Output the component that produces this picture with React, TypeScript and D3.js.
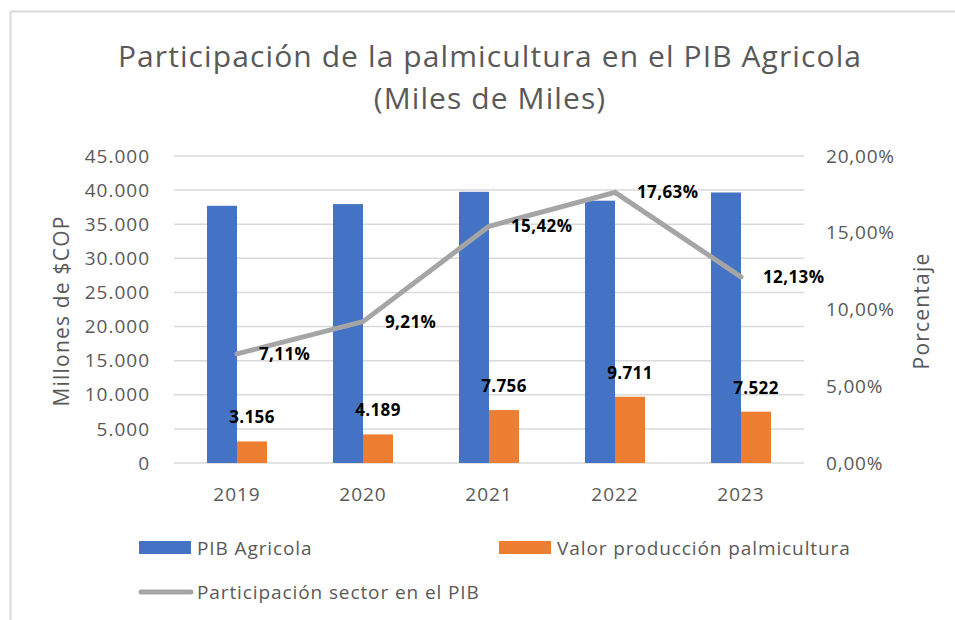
import * as d3 from "d3"
import { select, scaleBand, scaleLinear, line } from "d3"
import { useEffect, useRef } from "react"

const years = ["2019", "2020", "2021", "2022", "2023"]
const pibAgricola = [37700, 37950, 39750, 38450, 39650]
const valorPalma = [3156, 4189, 7756, 9711, 7522]
const participacion = [7.11, 9.21, 15.42, 17.63, 12.13]
const leftTicks = [0, 5000, 10000, 15000, 20000, 25000, 30000, 35000, 40000, 45000]
const rightTicks = [0, 5, 10, 15, 20]

const fmtMiles = (v: number) => d3.format(",")(v).replace(/,/g, ".")
const fmtPct = (v: number) => v.toFixed(2).replace(".", ",") + "%"

export default function App() {
  const ref = useRef<SVGSVGElement>(null)

  useEffect(() => {
    const svg = select(ref.current)
    svg.selectAll("*").remove()

    const font = "'Open Sans', sans-serif"
    const grey = "#595959"
    const left = 174, right = 804, top = 156, bottom = 463

    // frame (only top and left edges show)
    svg.append("line").attr("x1", 10.5).attr("x2", 955).attr("y1", 11.5).attr("y2", 11.5)
      .attr("stroke", "#D9D9D9").attr("stroke-width", 2)
    svg.append("line").attr("x1", 10.5).attr("x2", 10.5).attr("y1", 11.5).attr("y2", 620)
      .attr("stroke", "#D9D9D9").attr("stroke-width", 2)

    const x = scaleBand().domain(years).range([left, right]).padding(0)
    const xs = scaleBand().domain(["pib", "valor"]).range([33, 93]).padding(0)
    const y = scaleLinear().domain([0, 45000]).range([bottom, top])
    const y2 = scaleLinear().domain([0, 20]).range([bottom, top])

    // title
    const title = svg.append("text").attr("text-anchor", "middle").attr("fill", grey)
      .style("font-family", font).style("font-size", "30px").style("letter-spacing", "1.1px")
    title.append("tspan").attr("x", 490).attr("y", 67).text("Participación de la palmicultura en el PIB Agricola")
    title.append("tspan").attr("x", 490).attr("y", 109).text("(Miles de Miles)")

    // gridlines
    svg.append("g").selectAll("line").data(leftTicks).enter().append("line")
      .attr("x1", left).attr("x2", right)
      .attr("y1", d => y(d)).attr("y2", d => y(d))
      .attr("stroke", "#D9D9D9").attr("stroke-width", 1.5)

    // left axis labels
    svg.append("g").selectAll("text").data(leftTicks).enter().append("text")
      .attr("x", 150).attr("y", d => y(d)).attr("dy", "0.35em")
      .attr("text-anchor", "end").attr("fill", grey)
      .style("font-family", font).style("font-size", "19px").style("letter-spacing", "1px")
      .text(d => fmtMiles(d))

    // right axis labels
    svg.append("g").selectAll("text").data(rightTicks).enter().append("text")
      .attr("x", 826).attr("y", d => y2(d)).attr("dy", "0.35em")
      .attr("fill", grey)
      .style("font-family", font).style("font-size", "19px").style("letter-spacing", "0.8px")
      .text(d => fmtPct(d))

    // axis titles
    svg.append("text").attr("transform", "translate(62,311) rotate(-90)")
      .attr("text-anchor", "middle").attr("dy", "0.35em").attr("fill", grey)
      .style("font-family", font).style("font-size", "21px").style("letter-spacing", "1.2px")
      .text("Millones de $COP")
    svg.append("text").attr("transform", "translate(922,311) rotate(-90)")
      .attr("text-anchor", "middle").attr("dy", "0.35em").attr("fill", grey)
      .style("font-family", font).style("font-size", "21px").style("letter-spacing", "1.2px")
      .text("Porcentaje")

    // x labels
    svg.append("g").selectAll("text").data(years).enter().append("text")
      .attr("x", d => x(d)! + x.bandwidth() / 2).attr("y", 494).attr("dy", "0.35em")
      .attr("text-anchor", "middle").attr("fill", grey)
      .style("font-family", font).style("font-size", "19px").style("letter-spacing", "1px")
      .text(d => d)

    // bars
    svg.append("g").selectAll("rect").data(years).enter().append("rect")
      .attr("x", d => x(d)! + xs("pib")!)
      .attr("width", xs.bandwidth())
      .attr("y", (d, i) => y(pibAgricola[i]))
      .attr("height", (d, i) => bottom - y(pibAgricola[i]))
      .attr("fill", "#4472C4")
    svg.append("g").selectAll("rect").data(years).enter().append("rect")
      .attr("x", d => x(d)! + xs("valor")!)
      .attr("width", xs.bandwidth())
      .attr("y", (d, i) => y(valorPalma[i]))
      .attr("height", (d, i) => bottom - y(valorPalma[i]))
      .attr("fill", "#ED7D31")

    // orange labels
    svg.append("g").selectAll("text").data(years).enter().append("text")
      .attr("x", d => x(d)! + xs("valor")! + xs.bandwidth() / 2)
      .attr("y", (d, i) => y(valorPalma[i]) - 24).attr("dy", "0.35em")
      .attr("text-anchor", "middle").attr("fill", "#000")
      .style("font-family", font).style("font-size", "17px").style("font-weight", "bold")
      .style("letter-spacing", "0.4px")
      .text((d, i) => fmtMiles(valorPalma[i]))

    // line
    const cx = (d: string) => x(d)! + x.bandwidth() / 2
    const path = line<number>()
      .x((d, i) => cx(years[i]))
      .y(d => y2(d))
    svg.append("path").datum(participacion)
      .attr("d", path)
      .attr("fill", "none").attr("stroke", "#A5A5A5").attr("stroke-width", 5)
      .attr("stroke-linejoin", "round").attr("stroke-linecap", "round")

    svg.append("g").selectAll("text").data(participacion).enter().append("text")
      .attr("x", (d, i) => cx(years[i]) + 22)
      .attr("y", d => y2(d)).attr("dy", "0.35em")
      .attr("fill", "#000")
      .style("font-family", font).style("font-size", "17px").style("font-weight", "bold")
      .style("letter-spacing", "0.4px")
      .text(d => fmtPct(d))

    // legend
    const leg = svg.append("g").style("font-family", font).style("font-size", "19px")
      .style("letter-spacing", "0.9px")
    leg.append("rect").attr("x", 139).attr("y", 541).attr("width", 52).attr("height", 13).attr("fill", "#4472C4")
    leg.append("text").attr("x", 197).attr("y", 548).attr("dy", "0.35em").attr("fill", grey).text("PIB Agricola")
    leg.append("rect").attr("x", 499).attr("y", 541).attr("width", 52).attr("height", 13).attr("fill", "#ED7D31")
    leg.append("text").attr("x", 557).attr("y", 548).attr("dy", "0.35em").attr("fill", grey).text("Valor producción palmicultura")
    leg.append("line").attr("x1", 141).attr("x2", 191).attr("y1", 592).attr("y2", 592)
      .attr("stroke", "#A5A5A5").attr("stroke-width", 5).attr("stroke-linecap", "round")
    leg.append("text").attr("x", 197).attr("y", 592).attr("dy", "0.35em").attr("fill", grey).text("Participación sector en el PIB")
  })

  return (
    <svg ref={ref} width={955} height={620}
      style={{ position: "absolute", left: 0, top: 0, background: "#fff" }} />
  )
}
